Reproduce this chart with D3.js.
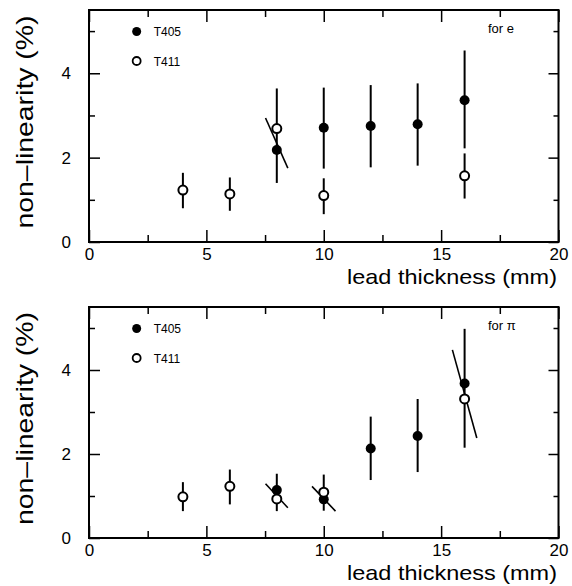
<!DOCTYPE html>
<html>
<head>
<meta charset="utf-8">
<script src="https://cdn.jsdelivr.net/npm/d3@7"></script>
<style>
    body { margin: 0; background: #fff; }
    svg { display: block; }
    text { font-family: "Liberation Sans", Arial, sans-serif; fill: #000; }
</style>
</head>
<body>
<div id="viz"></div>
<script>
/*##############################
#       Data   #
###############################*/

var xMajor = [0, 5, 10, 15, 20];
var xMinor = [2.5, 7.5, 12.5, 17.5];
var yMajor = [0, 2, 4];
var yMinor = [1, 3, 5];

// electrons - T405 (filled)
var eT405X  = [8, 10, 12, 14, 16];
var eT405Y  = [2.18, 2.71, 2.75, 2.79, 3.36];
var eT405Lo = [1.40, 1.74, 1.77, 1.81, 2.22];
var eT405Hi = [3.64, 3.66, 3.72, 3.76, 4.54];

// electrons - T411 (open)
var eT411X  = [4, 6, 8, 10, 16];
var eT411Y  = [1.23, 1.14, 2.69, 1.10, 1.57];
var eT411Lo = [0.80, 0.74, 2.69, 0.66, 1.03];
var eT411Hi = [1.64, 1.53, 2.69, 1.51, 2.10];

// tilted bars  [x1, y1, x2, y2]
var eSlant = [[7.52, 2.94, 8.47, 1.75]];

// pions - T405 (filled)
var pT405X  = [8, 10, 12, 14, 16];
var pT405Y  = [1.14, 0.92, 2.13, 2.43, 3.68];
var pT405Lo = [0.64, 0.65, 1.38, 1.57, 2.15];
var pT405Hi = [1.53, 1.51, 2.89, 3.31, 4.98];

// pions - T411 (open)
var pT411X  = [4, 6, 8, 10, 16];
var pT411Y  = [0.98, 1.23, 0.93, 1.09, 3.31];
var pT411Lo = [0.64, 0.80, 0.93, 1.09, 3.31];
var pT411Hi = [1.33, 1.63, 0.93, 1.09, 3.31];

var pSlant = [[7.52, 1.29, 8.47, 0.72], [9.50, 1.23, 10.50, 0.64], [15.48, 4.48, 16.52, 2.38]];

var seriesNames = ["T405", "T411"];


/*##############################
#       Drawing                #
###############################*/

const W = 572, H = 586;
const svg = d3.select("#viz").append("svg")
    .attr("width", W)
    .attr("height", H);

var x = d3.scaleLinear().domain([0, 20]).range([89, 558.5]);

function zip(xs, ys, lo, hi) {
    return xs.map(function (d, i) { return {x: d, y: ys[i], lo: lo[i], hi: hi[i]}; });
}

function drawPanel(top, bottom, filled, open, slant, note) {
    var y = d3.scaleLinear().domain([0, 5.5]).range([bottom, top]);
    var g = svg.append("g");

    // ticks (all pointing inward)
    function axisG(axis, tx, ty) {
        var a = g.append("g").attr("transform", "translate(" + tx + "," + ty + ")").call(axis);
        a.select(".domain").remove();
        a.selectAll("line").attr("stroke-width", 1.5);
        a.selectAll("text").attr("font-size", 17).attr("font-family", null);
        return a;
    }
    axisG(d3.axisBottom(x).tickValues(xMajor).tickSize(-12).tickSizeOuter(0).tickPadding(6).tickFormat(d3.format("d")), 0, bottom);
    axisG(d3.axisBottom(x).tickValues(xMinor).tickSize(-7).tickFormat(""), 0, bottom);
    axisG(d3.axisTop(x).tickValues(xMajor).tickSize(-12).tickFormat(""), 0, top);
    axisG(d3.axisTop(x).tickValues(xMinor).tickSize(-7).tickFormat(""), 0, top);
    axisG(d3.axisLeft(y).tickValues(yMajor).tickSize(-11).tickPadding(18).tickFormat(d3.format("d")), x(0), 0);
    axisG(d3.axisLeft(y).tickValues(yMinor).tickSize(-6).tickFormat(""), x(0), 0);
    axisG(d3.axisRight(y).tickValues(yMajor).tickSize(-10).tickFormat(""), x(20), 0);
    axisG(d3.axisRight(y).tickValues(yMinor).tickSize(-5).tickFormat(""), x(20), 0);

    // frame
    g.append("rect")
        .attr("x", x(0)).attr("y", top)
        .attr("width", x(20) - x(0)).attr("height", bottom - top)
        .attr("fill", "none").attr("stroke", "#000").attr("stroke-width", 2);

    // error bars
    var all = filled.concat(open);
    g.append("g").selectAll("line")
        .data(all.filter(function (d) { return d.hi > d.lo; }))
        .enter().append("line")
        .attr("x1", function (d) { return x(d.x); })
        .attr("x2", function (d) { return x(d.x); })
        .attr("y1", function (d) { return y(d.lo); })
        .attr("y2", function (d) { return y(d.hi); })
        .attr("stroke", "#000").attr("stroke-width", 2);

    g.append("g").selectAll("line")
        .data(slant)
        .enter().append("line")
        .attr("x1", function (d) { return x(d[0]); })
        .attr("y1", function (d) { return y(d[1]); })
        .attr("x2", function (d) { return x(d[2]); })
        .attr("y2", function (d) { return y(d[3]); })
        .attr("stroke", "#000").attr("stroke-width", 1.6);

    // dots
    g.append("g").selectAll("circle")
        .data(filled)
        .enter().append("circle")
        .attr("cx", function (d) { return x(d.x); })
        .attr("cy", function (d) { return y(d.y); })
        .attr("r", 5)
        .attr("fill", "#000");

    g.append("g").selectAll("circle")
        .data(open)
        .enter().append("circle")
        .attr("cx", function (d) { return x(d.x); })
        .attr("cy", function (d) { return y(d.y); })
        .attr("r", 4.5)
        .attr("fill", "#fff")
        .attr("stroke", "#000").attr("stroke-width", 2);

    // legend
    var lx = x(2.03), ly1 = top + 21.5, ly2 = top + 51;
    g.append("circle").attr("cx", lx).attr("cy", ly1).attr("r", 4.5).attr("fill", "#000");
    g.append("circle").attr("cx", lx).attr("cy", ly2).attr("r", 4).attr("fill", "#fff")
        .attr("stroke", "#000").attr("stroke-width", 1.8);
    g.append("text").attr("x", lx + 17).attr("y", ly1 + 4.5).attr("font-size", 12).text(seriesNames[0]);
    g.append("text").attr("x", lx + 17).attr("y", ly2 + 4.5).attr("font-size", 12).text(seriesNames[1]);

    g.append("text").attr("x", 488).attr("y", top + 23).attr("font-size", 13).text(note);

    // axis titles
    g.append("text")
        .attr("x", 557).attr("y", bottom + 42)
        .attr("text-anchor", "end")
        .attr("font-size", 21)
        .attr("textLength", 210).attr("lengthAdjust", "spacingAndGlyphs")
        .text("lead thickness (mm)");

    g.append("text")
        .attr("transform", "translate(33," + ((top + bottom) / 2 - 4) + ") rotate(-90)")
        .attr("text-anchor", "middle")
        .attr("font-size", 24)
        .attr("textLength", 213).attr("lengthAdjust", "spacingAndGlyphs")
        .text("non\u2013linearity (%)");
}

drawPanel(10, 242,
    zip(eT405X, eT405Y, eT405Lo, eT405Hi),
    zip(eT411X, eT411Y, eT411Lo, eT411Hi),
    eSlant, "for e");

drawPanel(307, 538,
    zip(pT405X, pT405Y, pT405Lo, pT405Hi),
    zip(pT411X, pT411Y, pT411Lo, pT411Hi),
    pSlant, "for \u03c0");
</script>
</body>
</html>
